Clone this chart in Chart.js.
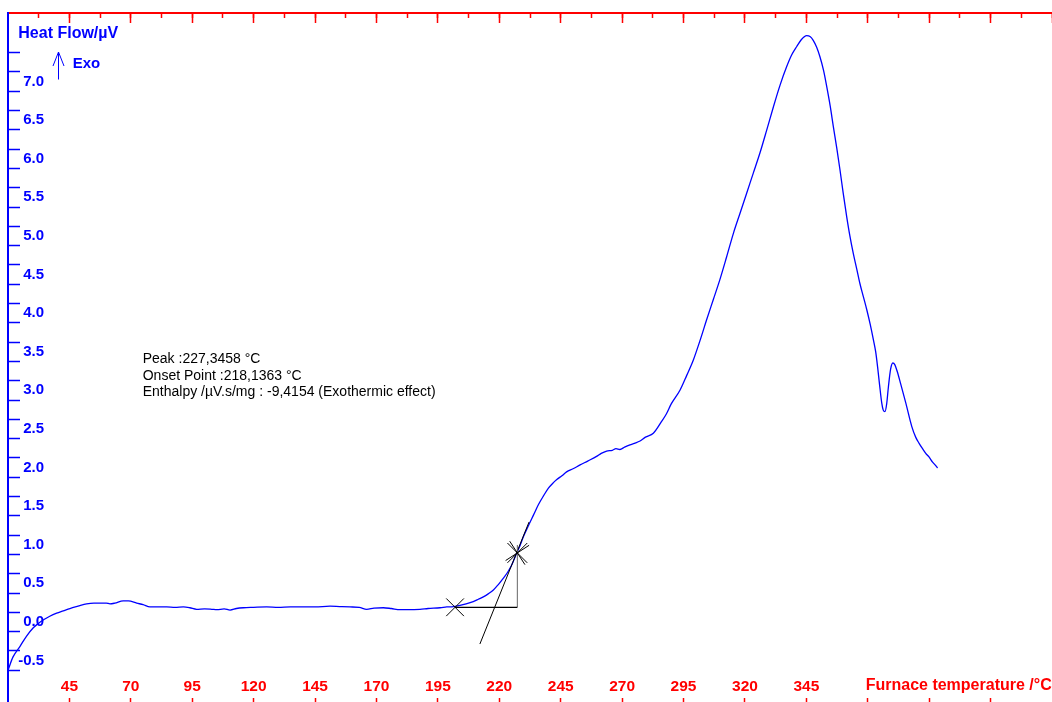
<!DOCTYPE html>
<html>
<head>
<meta charset="utf-8">
<title>Heat Flow / Furnace temperature</title>
<script src="https://cdn.jsdelivr.net/npm/chart.js@4.4.1/dist/chart.umd.min.js"></script>
<style>
  html, body { margin: 0; padding: 0; background: #ffffff; }
  canvas { display: block; }
</style>
</head>
<body>
<canvas id="dsc" width="1052" height="702"></canvas>
<script>
// Furnace temperature (°C) of each recorded sample
const temperature = [
  20, 22, 24.9, 27.5, 30.3, 32.5, 34.8, 37, 39.8, 42.5,
  45.2, 48.5, 52, 55, 57.5, 60, 61.5, 63.5, 66.9, 69,
  72.4, 75, 77.8, 81, 84.6, 88, 91.4, 94, 96.8, 100,
  103, 105, 108, 110.4, 113, 115.8, 120, 125.3, 130, 135,
  138.9, 145, 151.1, 155, 159.2, 163, 166, 169, 172.8, 176,
  179.6, 183, 187.7, 191, 195.9, 198.6, 201.3, 204, 206.5, 209.4,
  211.5, 213.5, 215.5, 217.6, 219.6, 221.6, 223.4, 225, 227.1, 228.5,
  229.8, 231.8, 233.9, 236, 238, 240, 241.7, 243.4, 245.5, 247.4,
  250, 252.9, 256, 259.6, 261.5, 263.7, 266, 267.5, 269.1, 271,
  273.2, 275, 277.3, 279.5, 282.7, 286, 288, 290, 293.6, 296.3,
  299, 301.7, 304.4, 307.1, 309.8, 312.5, 315.3, 318, 320.7, 323.4,
  326.1, 328.8, 331.6, 334.3, 337, 339, 341.1, 343, 345.1, 346.5,
  347.8, 349.2, 350.5, 352, 353.3, 354.7, 356, 357.4, 358.7, 360,
  361.4, 362.7, 364.1, 365.5, 366.8, 368.2, 369.6, 371, 372.3, 373.2,
  374, 374.8, 375.7, 376.3, 377, 377.7, 378.4, 379.3, 380.2, 381,
  382, 383.4, 385.5, 387.9, 389.5, 390.9, 392.3, 393.6, 395, 396.3,
  397.4, 398.4
];

// Heat flow signal (µV) at each temperature above
const heatFlow = [
  -0.75, -0.58, -0.44, -0.31, -0.20, -0.14, -0.09, -0.05, -0.01, 0.02,
  0.05, 0.08, 0.11, 0.12, 0.12, 0.12, 0.11, 0.12, 0.15, 0.15,
  0.12, 0.10, 0.07, 0.07, 0.07, 0.065, 0.07, 0.06, 0.04, 0.045,
  0.04, 0.035, 0.045, 0.03, 0.05, 0.06, 0.065, 0.07, 0.065, 0.07,
  0.07, 0.07, 0.08, 0.075, 0.07, 0.065, 0.04, 0.055, 0.06, 0.05,
  0.035, 0.035, 0.04, 0.05, 0.06, 0.07, 0.075, 0.09, 0.11, 0.14,
  0.17, 0.20, 0.24, 0.29, 0.36, 0.44, 0.52, 0.61, 0.77, 0.87,
  0.98, 1.12, 1.26, 1.40, 1.51, 1.61, 1.67, 1.72, 1.77, 1.82,
  1.86, 1.91, 1.96, 2.02, 2.06, 2.09, 2.10, 2.12, 2.11, 2.14,
  2.17, 2.19, 2.22, 2.27, 2.32, 2.47, 2.57, 2.70, 2.88, 3.07,
  3.27, 3.52, 3.79, 4.05, 4.31, 4.60, 4.91, 5.17, 5.43, 5.69,
  5.95, 6.24, 6.55, 6.83, 7.07, 7.22, 7.33, 7.42, 7.47, 7.46,
  7.41, 7.32, 7.20, 7.02, 6.81, 6.56, 6.29, 6.01, 5.73, 5.43,
  5.13, 4.88, 4.65, 4.45, 4.26, 4.09, 3.92, 3.73, 3.53, 3.38,
  3.18, 2.95, 2.71, 2.62, 2.60, 2.70, 2.92, 3.15, 3.23, 3.21,
  3.12, 2.96, 2.71, 2.41, 2.27, 2.19, 2.12, 2.06, 2.01, 1.95,
  1.91, 1.87
];

// Axis tick labels
const xTickLabels = ['45', '70', '95', '120', '145', '170', '195', '220', '245', '270', '295', '320', '345'];
const xUnlabelledTicks = [370, 395, 420];
const yTickLabels = ['-0.5', '0.0', '0.5', '1.0', '1.5', '2.0', '2.5', '3.0', '3.5', '4.0', '4.5', '5.0', '5.5', '6.0', '6.5', '7.0'];

// Onset evaluation of the first exothermic step
const markerTemps = [202.0, 227.3458];
const markerFlows = [0.066, 0.77];
const baselineTemps = [202.0, 227.3458];
const baselineFlows = [0.066, 0.066];
const peakDropTemps = [227.3458, 227.3458];
const peakDropFlows = [0.066, 0.873];
const tangentTemps = [212.1, 232.1];
const tangentFlows = [-0.41, 1.17];

const resultLines = [
  'Peak :227,3458 °C',
  'Onset Point :218,1363 °C',
  'Enthalpy /µV.s/mg : -9,4154 (Exothermic effect)'
];

const BLUE = '#0000ff';
const RED = '#ff0000';
const FAMILY = '"Liberation Sans", Arial, Helvetica, sans-serif';

const pairs = (xs, ys) => xs.map((x, i) => ({ x: x, y: ys[i] }));

// Tick positions
const xLabelValues = xTickLabels.map(Number);
const xBottomTicks = xLabelValues.concat(xUnlabelledTicks);
const xTopMinor = [];
for (let t = 32.5; t <= 445 + 1e-9; t += 12.5) xTopMinor.push(t);
const xTopMajor = [];
for (let t = 45; t <= 445 + 1e-9; t += 25) xTopMajor.push(t);
const yTicks = [];
for (let v = -0.75; v <= 7.25 + 1e-9; v += 0.25) yTicks.push(Math.round(v * 100) / 100);

const setTicks = (values) => (scale) => { scale.ticks = values.map(v => ({ value: v })); };
// Axes sit on the plot frame: they take no room and add no label padding
const flatAxis = (scale) => {
  if (scale.isHorizontal()) scale.height = 0; else scale.width = 0;
  scale.paddingLeft = 0;
  scale.paddingRight = 0;
  scale.paddingTop = 0;
  scale.paddingBottom = 0;
};

// Free text: axis captions, Exo arrow and evaluation results
const overlayText = {
  id: 'overlayText',
  afterDraw(chart) {
    const ctx = chart.ctx;
    const a = chart.chartArea;
    ctx.save();
    ctx.textAlign = 'left';
    ctx.textBaseline = 'alphabetic';

    ctx.fillStyle = BLUE;
    ctx.font = 'bold 16px ' + FAMILY;
    ctx.fillText('Heat Flow/µV', a.left + 10.3, a.top + 24.7);

    ctx.font = 'bold 15px ' + FAMILY;
    ctx.fillText('Exo', a.left + 64.7, a.top + 54.7);

    ctx.strokeStyle = BLUE;
    ctx.lineWidth = 1;
    ctx.beginPath();
    ctx.moveTo(a.left + 50.5, a.top + 66.5);
    ctx.lineTo(a.left + 50.5, a.top + 39);
    ctx.moveTo(a.left + 45, a.top + 53);
    ctx.lineTo(a.left + 50.5, a.top + 39);
    ctx.lineTo(a.left + 56, a.top + 53);
    ctx.stroke();

    ctx.fillStyle = '#000000';
    ctx.font = '14px ' + FAMILY;
    resultLines.forEach((line, i) => {
      ctx.fillText(line, a.left + 134.7, a.top + 350.3 + i * 16.4);
    });

    ctx.fillStyle = RED;
    ctx.font = 'bold 16px ' + FAMILY;
    ctx.textAlign = 'right';
    ctx.fillText('Furnace temperature /°C', a.right - 0.3, a.bottom - 12);
    ctx.restore();
  }
};

new Chart(document.getElementById('dsc'), {
  type: 'scatter',
  data: {
    datasets: [
      {
        label: 'Markers',
        data: pairs(markerTemps, markerFlows),
        showLine: false,
        pointStyle: 'crossRot',
        pointRadius: [12.5, 14],
        pointBorderColor: '#000000',
        pointBorderWidth: 1,
        order: 0
      },
      {
        label: 'Markers (second trace)',
        data: pairs(markerTemps.slice(1), markerFlows.slice(1)),
        showLine: false,
        pointStyle: 'crossRot',
        pointRadius: 14,
        pointRotation: 12,
        pointBorderColor: '#000000',
        pointBorderWidth: 1,
        order: 0
      },
      {
        label: 'Baseline',
        data: pairs(baselineTemps, baselineFlows),
        showLine: true,
        borderColor: '#000000',
        borderWidth: 1.3,
        pointRadius: 0,
        order: 1
      },
      {
        label: 'Peak drop',
        data: pairs(peakDropTemps, peakDropFlows),
        showLine: true,
        borderColor: '#666666',
        borderWidth: 1,
        pointRadius: 0,
        order: 1
      },
      {
        label: 'Tangent',
        data: pairs(tangentTemps, tangentFlows),
        showLine: true,
        borderColor: '#000000',
        borderWidth: 1,
        pointRadius: 0,
        order: 1
      },
      {
        label: 'Heat Flow',
        data: pairs(temperature, heatFlow),
        showLine: true,
        borderColor: BLUE,
        borderWidth: 1.3,
        pointRadius: 0,
        cubicInterpolationMode: 'monotone',
        order: 2
      }
    ]
  },
  options: {
    responsive: false,
    animation: false,
    devicePixelRatio: 1,
    events: [],
    layout: { autoPadding: false, padding: { left: 8, top: 13, right: 0, bottom: 0 } },
    plugins: {
      legend: { display: false },
      tooltip: { enabled: false },
      title: { display: false }
    },
    scales: {
      x: {
        type: 'linear',
        position: 'bottom',
        min: 20,
        max: 445,
        afterBuildTicks: setTicks(xBottomTicks),
        afterFit: flatAxis,
        border: { display: false },
        grid: {
          drawOnChartArea: false,
          drawTicks: true,
          tickLength: -4,
          tickColor: RED,
          tickWidth: 1.5
        },
        ticks: {
          mirror: true,
          padding: 6,
          maxRotation: 0,
          autoSkip: false,
          color: RED,
          font: { family: FAMILY, size: 15.5, weight: 'bold' },
          callback: (value) => xTickLabels.includes(String(value)) ? String(value) : ''
        }
      },
      xTopMinor: {
        type: 'linear',
        position: 'top',
        axis: 'x',
        min: 20,
        max: 445,
        afterBuildTicks: setTicks(xTopMinor),
        afterFit: flatAxis,
        border: { display: true, color: RED, width: 2 },
        grid: {
          drawOnChartArea: false,
          drawTicks: true,
          tickLength: -5,
          tickColor: RED,
          tickWidth: 1.5
        },
        ticks: { display: false }
      },
      xTopMajor: {
        type: 'linear',
        position: 'top',
        axis: 'x',
        min: 20,
        max: 445,
        afterBuildTicks: setTicks(xTopMajor),
        afterFit: flatAxis,
        border: { display: false },
        grid: {
          drawOnChartArea: false,
          drawTicks: true,
          tickLength: -10,
          tickColor: RED,
          tickWidth: 1.5
        },
        ticks: { display: false }
      },
      y: {
        type: 'linear',
        position: 'left',
        min: -1.161,
        max: 7.764,
        afterBuildTicks: setTicks(yTicks),
        afterFit: flatAxis,
        border: { display: true, color: BLUE, width: 2 },
        grid: {
          drawOnChartArea: false,
          drawTicks: true,
          tickLength: -12,
          tickColor: BLUE,
          tickWidth: 1.5
        },
        ticks: {
          mirror: true,
          crossAlign: 'far',
          padding: 10.2,
          labelOffset: 9.5,
          autoSkip: false,
          color: BLUE,
          font: { family: FAMILY, size: 15, weight: 'bold' },
          callback: (value) => yTickLabels.find(l => Math.abs(parseFloat(l) - value) < 1e-6) || ''
        }
      }
    }
  },
  plugins: [overlayText]
});
</script>
</body>
</html>
